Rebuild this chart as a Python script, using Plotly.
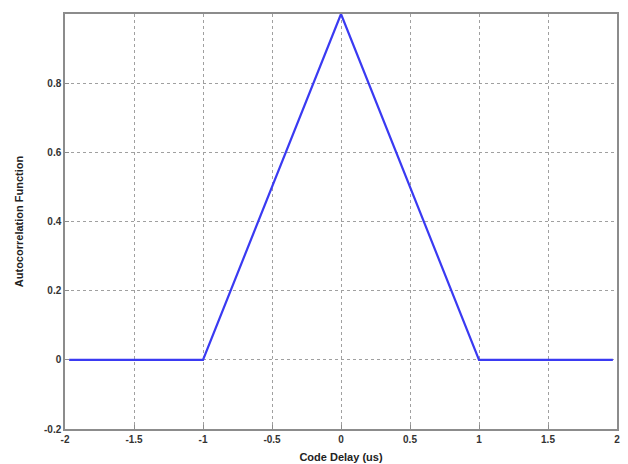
import plotly.graph_objects as go

# Ideal PRN code autocorrelation: triangle of width 2 chips
code_delay_us = [-1.97, -1.0, 0.0, 1.0, 1.97]
autocorr = [0.0, 0.0, 1.0, 0.0, 0.0]

x_ticks = [-2, -1.5, -1, -0.5, 0, 0.5, 1, 1.5, 2]
x_tick_text = ["-2", "-1.5", "-1", "-0.5", "0", "0.5", "1", "1.5", "2"]
y_ticks = [-0.2, 0, 0.2, 0.4, 0.6, 0.8]
y_tick_text = ["-0.2", "0", "0.2", "0.4", "0.6", "0.8"]

font_family = "Liberation Sans, Arial, sans-serif"

fig = go.Figure()
fig.add_trace(go.Scatter(
    x=code_delay_us, y=autocorr, mode="lines",
    line=dict(color="#3a3af2", width=2.2),
    showlegend=False,
))

axis_common = dict(
    showline=True, linecolor="#8c8c8c", linewidth=1.5, mirror=True,
    showgrid=True, gridcolor="#a0a0a0", griddash="dot", gridwidth=1,
    zeroline=False, ticks="inside", ticklen=4, tickcolor="#8c8c8c",
    automargin=False,
    tickfont=dict(family=font_family, size=10, color="#333333", weight="bold"),
)

fig.update_layout(
    width=628, height=464,
    margin=dict(l=65, r=11, t=14, b=35),
    paper_bgcolor="white", plot_bgcolor="white",
    font=dict(family=font_family),
    xaxis=dict(
        range=[-2, 2], tickvals=x_ticks, ticktext=x_tick_text,
        title=dict(text="<b>Code Delay (us)</b>", standoff=10,
                   font=dict(family=font_family, size=11, color="#222222")),
        **axis_common,
    ),
    yaxis=dict(
        range=[-0.2, 1.0], tickvals=y_ticks, ticktext=y_tick_text,
        title=dict(text="<b>Autocorrelation Function</b>", standoff=18,
                   font=dict(family=font_family, size=11, color="#222222")),
        **axis_common,
    ),
)

fig.write_html("out.html")
